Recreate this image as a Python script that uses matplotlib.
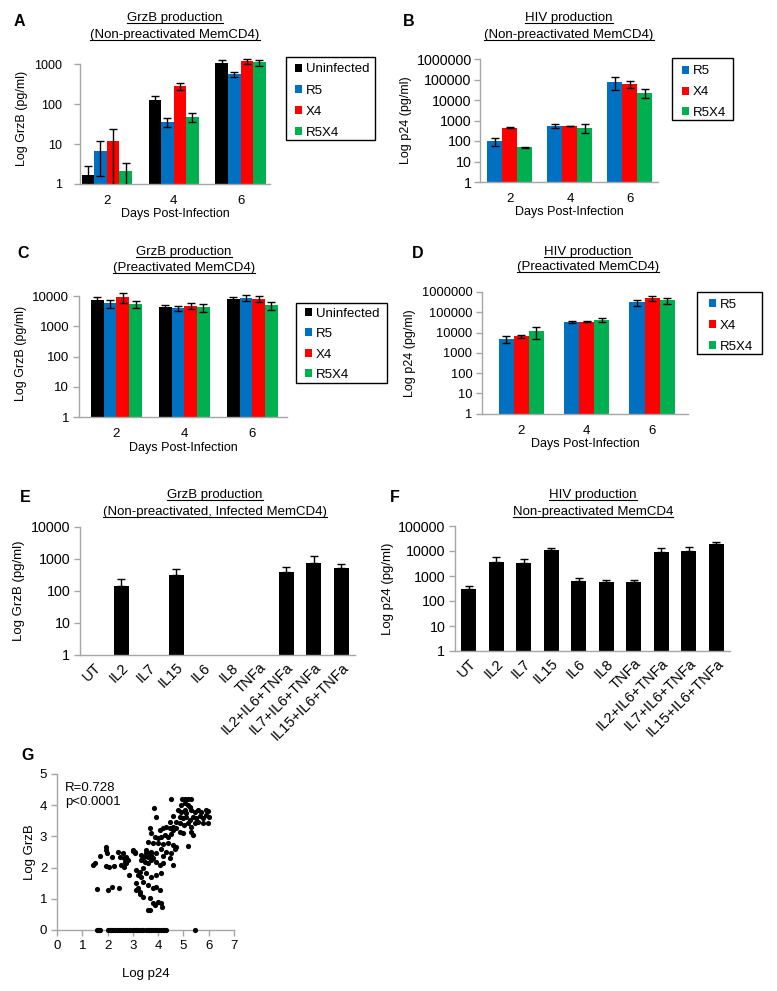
import numpy as np
import matplotlib
matplotlib.use('Agg')
import matplotlib.pyplot as plt
from matplotlib.lines import Line2D
from matplotlib.patches import Rectangle

plt.rcParams['font.family'] = ['Liberation Sans', 'DejaVu Sans']

W, H = 777, 991
fig = plt.figure(figsize=(W / 100, H / 100), dpi=100)

# ---------------- data ----------------
days = ['2', '4', '6']
series4 = ['Uninfected', 'R5', 'X4', 'R5X4']
series3 = ['R5', 'X4', 'R5X4']
colors = {'Uninfected': '#000000', 'R5': '#0070C0', 'X4': '#FF0000', 'R5X4': '#00B050'}

# A: GrzB, non-preactivated
a_unin = [1.65, 123, 1080]
a_unin_err = [1.15, 37, 160]
a_r5 = [6.7, 36, 550]
a_r5_err = [5.1, 9, 80]
a_x4 = [11.7, 285, 1170]
a_x4_err = [11.8, 60, 190]
a_r5x4 = [2.07, 48, 1100]
a_r5x4_err = [1.33, 12, 190]

# B: HIV p24, non-preactivated
b_r5 = [100, 530, 78000]
b_r5_err = [42, 110, 48000]
b_x4 = [440, 550, 60000]
b_x4_err = [20, 10, 21000]
b_r5x4 = [50, 440, 23000]
b_r5x4_err = [3, 200, 10000]

# C: GrzB, preactivated
c_unin = [7360, 4200, 8000]
c_unin_err = [2100, 800, 1400]
c_r5 = [5700, 3900, 8800]
c_r5_err = [1600, 700, 1900]
c_x4 = [9100, 4700, 8200]
c_x4_err = [3100, 1000, 1900]
c_r5x4 = [5300, 4200, 4900]
c_r5x4_err = [1300, 1200, 1400]

# D: HIV p24, preactivated
d_r5 = [5000, 32000, 310000]
d_r5_err = [1900, 4000, 110000]
d_x4 = [6600, 35000, 490000]
d_x4_err = [1000, 1500, 140000]
d_r5x4 = [12000, 44000, 390000]
d_r5x4_err = [7000, 11000, 130000]

# E / F: cytokines
cytokines = ['UT', 'IL2', 'IL7', 'IL15', 'IL6', 'IL8', 'TNFa',
             'IL2+IL6+TNFa', 'IL7+IL6+TNFa', 'IL15+IL6+TNFa']
e_vals = [np.nan, 148, np.nan, 306, np.nan, np.nan, np.nan, 380, 745, 535]
e_err = [np.nan, 87, np.nan, 174, np.nan, np.nan, np.nan, 180, 455, 140]
f_vals = [316, 3600, 3170, 10900, 620, 590, 570, 9400, 10200, 18300]
f_err = [74, 1900, 1430, 2600, 180, 130, 150, 3300, 4600, 5200]

# G: scatter Log p24 vs Log GrzB
g_logp24 = [
    4.52, 4.96, 5.05, 5.18, 5.31,
    4.92, 5.05, 5.18, 5.25,
    4.79, 4.92, 5.05, 5.11, 5.31, 5.44, 5.58, 5.71, 5.88, 5.97,
    4.85, 4.98, 5.11, 5.25, 5.38, 5.51, 5.64, 5.77, 5.91, 6.01,
    4.85, 5.02, 5.18, 5.31, 5.44, 5.58, 5.77, 5.97,
    5.31, 5.38, 5.18,
    4.59, 4.46, 4.59, 4.72,
    3.82, 3.93,
    4.06, 4.19, 4.32, 4.46, 4.59, 4.72, 4.85, 4.98,
    3.66, 3.73, 3.86, 3.99, 4.13, 4.26, 4.39, 4.52,
    3.60, 3.80, 3.99, 4.19, 4.39, 4.59, 4.72,
    3.53, 3.73, 3.93, 4.13, 4.32, 4.52, 4.65,
    4.19, 4.46, 4.59,
    3.01, 3.07,
    3.34, 3.43, 3.53, 3.66, 3.73, 3.80, 3.60,
    3.34, 3.47, 3.60, 3.73, 3.93, 4.06, 4.19,
    3.14, 3.27, 3.40, 3.20, 3.34, 3.53, 3.73, 3.93, 4.13,
    3.14, 3.20, 3.27, 3.40, 3.60, 3.80, 3.93, 4.06,
    3.14, 3.27, 3.40, 3.66, 3.80, 3.86, 3.99, 4.13, 4.17,
    3.60, 3.66,
    1.42, 1.52, 1.69, 1.92, 1.95, 1.98, 1.95, 2.06, 2.19, 2.25, 2.41, 2.48,
    2.61, 2.64, 2.68, 2.72, 2.81, 2.74, 2.54, 2.64, 2.85, 3.01, 3.07,
    1.60, 2.02, 2.18, 2.45,
    1.58, 1.62, 1.66, 1.70, 2.00, 2.08, 2.15, 2.22, 2.30, 2.36, 2.45, 2.52,
    2.60, 2.68, 2.75, 2.83, 2.90, 2.98, 3.05, 3.12, 3.20, 3.27, 3.35, 3.42,
    3.50, 3.58, 3.65, 3.72, 3.80, 3.88, 3.95, 4.02, 4.10, 4.18, 4.25, 4.32,
    5.44,
]
g_loggrzb = [
    4.20, 4.20, 4.20, 4.20, 4.20,
    4.01, 4.06, 4.01, 3.95,
    3.85, 3.79, 3.85, 3.74, 3.85, 3.79, 3.85, 3.79, 3.85, 3.82,
    3.63, 3.58, 3.63, 3.53, 3.63, 3.58, 3.65, 3.58, 3.69, 3.63,
    3.42, 3.37, 3.42, 3.31, 3.42, 3.47, 3.42, 3.42,
    3.15, 3.04, 2.69,
    3.65, 3.47, 3.31, 3.47,
    3.90, 3.63,
    3.21, 3.26, 3.31, 3.26, 3.21, 3.26, 3.15, 3.10,
    3.26, 3.10, 2.99, 2.94, 2.99, 3.04, 2.99, 3.08,
    2.83, 2.78, 2.78, 2.76, 2.78, 2.72, 2.67,
    2.56, 2.51, 2.46, 2.59, 2.49, 2.46, 2.59,
    2.38, 2.30, 2.08,
    2.56, 2.46,
    2.40, 2.35, 2.46, 2.48, 2.40, 2.30, 2.35,
    2.24, 2.19, 2.14, 2.24, 2.19, 2.08, 2.14,
    1.92, 1.87, 1.98, 1.76, 1.71, 1.82, 1.71, 1.76, 1.82,
    1.50, 1.34, 1.23, 1.55, 1.44, 1.34, 1.39, 1.28,
    1.28, 1.15, 1.07, 1.01, 0.85, 0.80, 0.91, 0.85, 0.75,
    0.64, 0.64,
    2.08, 2.14, 2.38, 2.67, 2.56, 2.46, 2.06, 2.01, 2.35, 2.06, 2.49, 2.35,
    2.46, 2.30, 2.19, 2.14, 2.24, 2.35, 2.08, 2.03, 1.76, 2.53, 2.49,
    1.32, 1.28, 1.39, 1.35,
    0, 0, 0, 0, 0, 0, 0, 0, 0, 0, 0, 0,
    0, 0, 0, 0, 0, 0, 0, 0, 0, 0, 0, 0,
    0, 0, 0, 0, 0, 0, 0, 0, 0, 0, 0, 0,
    0,
]

# ---------------- helpers ----------------
SPINE = '#A6A6A6'
FS = 9


def add_ax(l, r, t, b):
    return fig.add_axes([l / W, 1 - b / H, (r - l) / W, (b - t) / H])


def style(ax, tick_fs=9, ypad=3, xpad=8, xtick_fs=9.5):
    for s in ['top', 'right']:
        ax.spines[s].set_visible(False)
    for s in ['left', 'bottom']:
        ax.spines[s].set_color(SPINE)
        ax.spines[s].set_linewidth(1.0)
    ax.tick_params(axis='y', direction='out', length=4, width=1, color=SPINE,
                   labelsize=tick_fs, pad=ypad)
    ax.tick_params(axis='x', length=0, labelsize=xtick_fs, pad=xpad)


def log_axis(ax, top_dec, ymax):
    ax.set_yscale('log')
    ax.set_ylim(1, ymax)
    ticks = [10 ** k for k in range(top_dec + 1)]
    ax.set_yticks(ticks)
    ax.set_yticklabels([str(t) for t in ticks])
    ax.yaxis.set_minor_locator(matplotlib.ticker.NullLocator())
    ax.spines['left'].set_bounds(1, 10 ** top_dec)


def grouped(ax, names, vals, errs, width, xlim):
    n = len(names)
    x = np.arange(len(days))
    for i, (nm, v, e) in enumerate(zip(names, vals, errs)):
        xi = x + (i - (n - 1) / 2) * width
        ax.bar(xi, np.array(v) - 1, bottom=1, width=width, color=colors[nm],
               label=nm, zorder=2)
        ax.errorbar(xi, v, yerr=e, fmt='none', ecolor='black', elinewidth=1,
                    capsize=3, capthick=1, zorder=3)
    ax.set_xticks(x)
    ax.set_xticklabels(days)
    ax.set_xlim(*xlim)


def legend(ax, box, handle_x, row1_y, spacing):
    l, r, t, b = box
    fig.add_artist(Rectangle((l / W, 1 - b / H), (r - l) / W, (b - t) / H,
                             transform=fig.transFigure, fill=False,
                             edgecolor='black', linewidth=1.0))
    fs = 9.5
    fs_px = fs * 100 / 72
    ls = (spacing - 11.8) / fs_px
    leg = ax.legend(loc='upper left',
                    bbox_to_anchor=(handle_x / W, 1 - (row1_y - 4.5) / H),
                    bbox_transform=fig.transFigure, borderaxespad=0,
                    frameon=False, fontsize=fs, borderpad=0,
                    handlelength=0.55, handleheight=0.55, handletextpad=0.25,
                    labelspacing=ls)
    return leg


title_texts = []


def title2(cx, y1, y2, l1, l2):
    for y, s in [(y1, l1), (y2, l2)]:
        t = fig.text(cx / W, 1 - y / H, s, ha='center', va='center', fontsize=9.5)
        title_texts.append(t)


def letter(x, y, s):
    fig.text(x / W, 1 - y / H, s, ha='center', va='center', fontsize=11.5,
             fontweight='bold')


# ---------------- Panel A ----------------
axA = add_ax(80, 270, 52, 184)
style(axA, tick_fs=9, ypad=9)
log_axis(axA, 3, 2000)
grouped(axA, series4, [a_unin, a_r5, a_x4, a_r5x4],
        [a_unin_err, a_r5_err, a_x4_err, a_r5x4_err], 0.1875, (-0.4, 2.44))
axA.set_ylabel('Log GrzB (pg/ml)', fontsize=FS, labelpad=4)
axA.set_xlabel('Days Post-Infection', fontsize=FS, labelpad=1)
legend(axA, (286, 375, 57, 140), 295, 68, 20.9)
title2(175, 18, 35, 'GrzB production', '(Non-preactivated MemCD4)')
letter(19, 22, 'A')

# ---------------- Panel B ----------------
axB = add_ax(480, 658, 59, 182)
style(axB, tick_fs=10.3, ypad=2)
log_axis(axB, 6, 1e6)
grouped(axB, series3, [b_r5, b_x4, b_r5x4], [b_r5_err, b_x4_err, b_r5x4_err],
        0.25, (-0.5, 2.47))
axB.set_ylabel('Log p24 (pg/ml)', fontsize=FS, labelpad=3)
axB.set_xlabel('Days Post-Infection', fontsize=FS, labelpad=1)
legend(axB, (672, 733, 58, 120), 682, 70, 20.5)
title2(569, 18, 35, 'HIV production', '(Non-preactivated MemCD4)')
letter(409, 22, 'B')

# ---------------- Panel C ----------------
axC = add_ax(79, 287, 290.7, 417)
style(axC, tick_fs=9.5, ypad=3)
log_axis(axC, 4, 15000)
grouped(axC, series4, [c_unin, c_r5, c_x4, c_r5x4],
        [c_unin_err, c_r5_err, c_x4_err, c_r5x4_err], 0.1875, (-0.55, 2.51))
axC.set_ylabel('Log GrzB (pg/ml)', fontsize=FS, labelpad=4)
axC.set_xlabel('Days Post-Infection', fontsize=FS, labelpad=1)
legend(axC, (296, 387, 303, 383), 305, 312, 20.3)
title2(184, 252, 268, 'GrzB production', '(Preactivated MemCD4)')
letter(23, 254, 'C')

# ---------------- Panel D ----------------
axD = add_ax(482, 688, 292, 413.7)
style(axD, tick_fs=9.3, ypad=3)
log_axis(axD, 6, 1e6)
grouped(axD, series3, [d_r5, d_x4, d_r5x4], [d_r5_err, d_x4_err, d_r5x4_err],
        0.23, (-0.6, 2.55))
axD.set_ylabel('Log p24 (pg/ml)', fontsize=FS, labelpad=4)
axD.set_xlabel('Days Post-Infection', fontsize=FS, labelpad=1)
legend(axD, (697, 762, 292, 354), 709, 303, 21)
title2(588, 252, 267, 'HIV production', '(Preactivated MemCD4)')
letter(418, 253, 'D')


# ---------------- Panels E / F ----------------
def cyto_panel(ax, vals, errs, top_dec, tick_fs):
    style(ax, tick_fs=tick_fs, ypad=3, xpad=4)
    log_axis(ax, top_dec, 10 ** top_dec)
    x = np.arange(len(cytokines))
    v = np.array(vals, dtype=float)
    e = np.array(errs, dtype=float)
    m = np.isfinite(v)
    ax.bar(x[m], v[m] - 1, bottom=1, width=0.55, color='black', zorder=2)
    ax.errorbar(x[m], v[m], yerr=[np.zeros(m.sum()), e[m]], fmt='none',
                ecolor='black', elinewidth=1, capsize=3, capthick=1, zorder=3)
    ax.set_xticks(x)
    ax.set_xticklabels(cytokines, rotation=45, ha='right', rotation_mode='anchor',
                       fontsize=10.5)
    ax.set_xlim(-0.5, 9.5)


axE = add_ax(80, 355, 527, 655)
cyto_panel(axE, e_vals, e_err, 4, 10.3)
axE.set_ylabel('Log GrzB (pg/ml)', fontsize=9.5, labelpad=4)
title2(215, 495, 512, 'GrzB production', '(Non-preactivated, Infected MemCD4)')
letter(25, 498, 'E')

axF = add_ax(455, 730, 526, 651)
cyto_panel(axF, f_vals, f_err, 5, 10.3)
axF.set_ylabel('Log p24 (pg/ml)', fontsize=9.5, labelpad=3)
title2(593, 495, 512, 'HIV production', 'Non-preactivated MemCD4')
letter(395, 498, 'F')

# ---------------- Panel G ----------------
axG = add_ax(57, 234, 774, 930)
for s in ['top', 'right']:
    axG.spines[s].set_visible(False)
for s in ['left', 'bottom']:
    axG.spines[s].set_color(SPINE)
    axG.spines[s].set_linewidth(1.0)
axG.tick_params(direction='out', length=4, width=1, color=SPINE, labelsize=9.5, pad=3)
axG.scatter(g_logp24, g_loggrzb, s=14, c='black', linewidths=0, clip_on=False,
            zorder=3)
axG.set_xlim(0, 7)
axG.set_ylim(0, 5)
axG.set_xticks(range(0, 8))
axG.set_yticks(range(0, 6))
axG.set_xlabel('Log p24', fontsize=9.5, labelpad=12)
axG.set_ylabel('Log GrzB', fontsize=9.5, labelpad=3)
axG.text(0.045, 0.95, 'R=0.728\np<0.0001', transform=axG.transAxes, ha='left',
         va='top', fontsize=9.5, linespacing=1.25)
letter(28, 756, 'G')

# ---------------- underline titles ----------------
fig.canvas.draw()
r = fig.canvas.get_renderer()
for t in title_texts:
    bb = t.get_window_extent(r)
    yl = bb.y0 + 1.0
    fig.add_artist(Line2D([bb.x0 / W, bb.x1 / W], [yl / H, yl / H],
                          transform=fig.transFigure, color='black', lw=0.8))

fig.savefig('out.png', dpi=100)
